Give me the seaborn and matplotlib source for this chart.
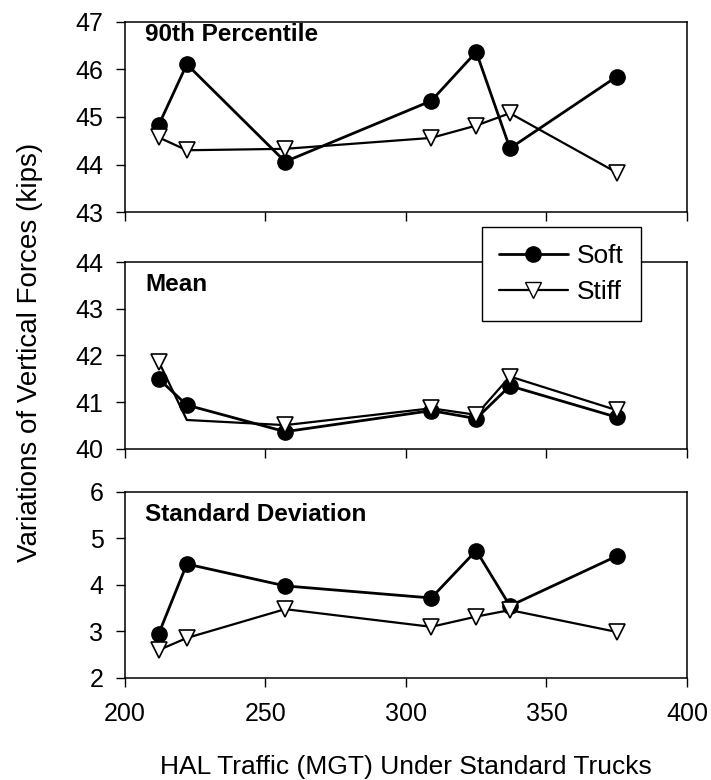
import numpy as np
import pandas as pd
import seaborn as sns
import matplotlib.pyplot as plt
from matplotlib.lines import Line2D

# HAL traffic (MGT) at each measurement
traffic = [212, 222, 257, 309, 325, 337, 375]

# 90th percentile (kips)
p90_soft = [44.83, 46.11, 44.06, 45.34, 46.37, 44.34, 45.85]
p90_stiff = [44.57, 44.30, 44.33, 44.56, 44.82, 45.08, 43.83]

# mean (kips)
mean_soft = [41.50, 40.94, 40.37, 40.82, 40.65, 41.35, 40.68]
mean_stiff = [41.87, 40.62, 40.51, 40.87, 40.73, 41.55, 40.83]

# standard deviation (kips)
sd_soft = [2.95, 4.45, 3.98, 3.72, 4.74, 3.55, 4.62]
sd_stiff = [2.60, 2.86, 3.48, 3.10, 3.32, 3.46, 2.99]

panel_titles = ["90th Percentile", "Mean", "Standard Deviation"]
y_limits = [(43, 47), (40, 44), (2, 6)]
x_ticks = [200, 250, 300, 350, 400]

sns.set_style("ticks")
plt.rcParams["font.family"] = ["Liberation Sans", "DejaVu Sans"]
plt.rcParams["text.color"] = "black"
plt.rcParams["xtick.color"] = "black"
plt.rcParams["ytick.color"] = "black"

fig = plt.figure(figsize=(7.11, 7.8), dpi=100)

# axes boxes in figure fractions (left, bottom, width, height)
boxes = [
    [0.1758, 0.7282, 0.7904, 0.2436],
    [0.1758, 0.4244, 0.7904, 0.2397],
    [0.1758, 0.1308, 0.7904, 0.2385],
]

series = [
    (p90_soft, p90_stiff),
    (mean_soft, mean_stiff),
    (sd_soft, sd_stiff),
]

for i, (box, (soft, stiff)) in enumerate(zip(boxes, series)):
    ax = fig.add_axes(box)
    df = pd.DataFrame({"traffic": traffic, "Soft": soft, "Stiff": stiff})

    sns.lineplot(data=df, x="traffic", y="Soft", ax=ax, color="black",
                 linewidth=2.0, marker="o", markersize=11,
                 markerfacecolor="black", markeredgecolor="black",
                 markeredgewidth=1.0)
    stiff_kws = {}
    if i == 1:
        # second Stiff marker is hidden in the mean panel
        stiff_kws["markevery"] = [0, 2, 3, 4, 5, 6]
    sns.lineplot(data=df, x="traffic", y="Stiff", ax=ax, color="black",
                 linewidth=1.6, marker="v", markersize=12,
                 markerfacecolor="white", markeredgecolor="black",
                 markeredgewidth=1.2, **stiff_kws)

    lo, hi = y_limits[i]
    ax.set_xlim(200, 400)
    ax.set_ylim(lo, hi)
    ax.set_xticks(x_ticks)
    ax.set_yticks(np.arange(lo, hi + 1, 1))
    ax.set_xlabel("")
    ax.set_ylabel("")
    for sp in ax.spines.values():
        sp.set_visible(True)
        sp.set_color("black")
        sp.set_linewidth(1.1)
    ax.tick_params(axis="both", direction="out", length=6.5, width=1.0,
                   colors="black", labelsize=18)
    ax.tick_params(axis="y", pad=9)
    ax.tick_params(axis="x", pad=11)
    if i < 2:
        ax.tick_params(axis="x", labelbottom=False)

    title_y = 1 - 13 / 190 if i == 0 else 1 - 23 / 187
    ax.text(0.036, title_y, panel_titles[i], transform=ax.transAxes,
            ha="left", va="center", fontsize=17.5, fontweight="bold")

handles = [
    Line2D([], [], color="black", linewidth=2.0, marker="o", markersize=11,
           markerfacecolor="black", markeredgecolor="black"),
    Line2D([], [], color="black", linewidth=1.6, marker="v", markersize=12,
           markerfacecolor="white", markeredgecolor="black"),
]
leg = fig.legend(handles, ["Soft", "Stiff"], loc="upper left",
                 bbox_to_anchor=(482 / 711, 1 - 227 / 780), fontsize=19,
                 frameon=True, fancybox=False, framealpha=1, edgecolor="black",
                 handlelength=2.6, handletextpad=0.35, labelspacing=0.45,
                 borderpad=0.65, borderaxespad=0)
leg.get_frame().set_linewidth(1.0)

fig.text(30 / 711, 1 - 352 / 780, "Variations of Vertical Forces (kips)",
         rotation=90, ha="center", va="center", fontsize=20)
fig.text(406 / 711, 1 - 767 / 780, "HAL Traffic (MGT) Under Standard Trucks",
         ha="center", va="center", fontsize=19)

fig.savefig("out.png", dpi=100)
